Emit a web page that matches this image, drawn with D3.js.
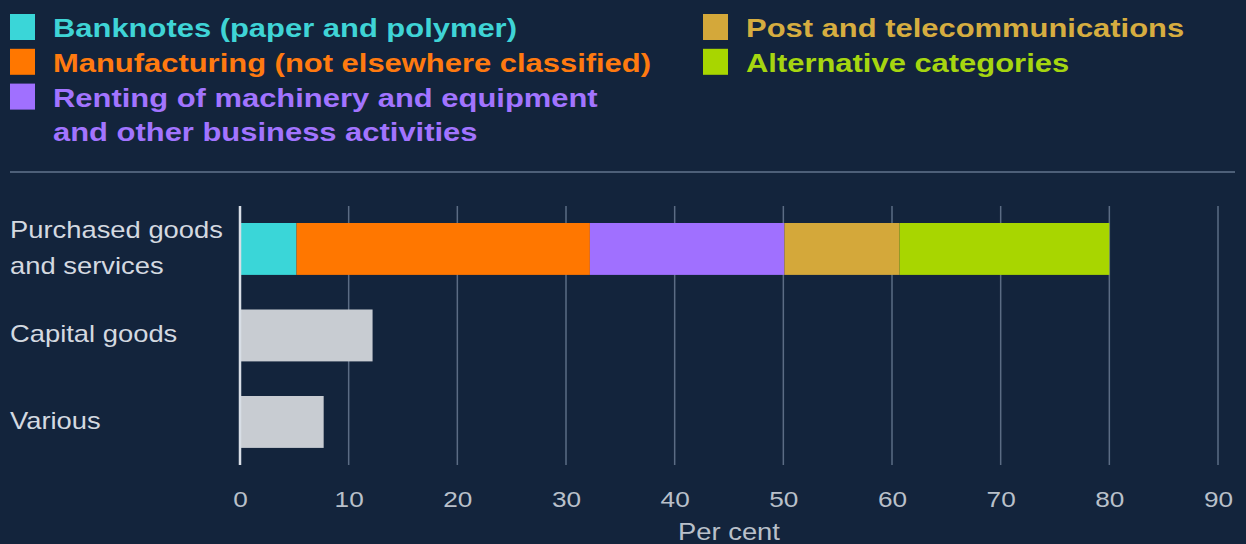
<!DOCTYPE html>
<html>
<head>
<meta charset="utf-8">
<script src="https://cdn.jsdelivr.net/npm/d3@7"></script>
<style>
  html, body { margin: 0; padding: 0; background: #13243c; }
  svg { display: block; }
</style>
</head>
<body>
<svg id="chart" width="1246" height="544"></svg>
<script>
// Spending breakdown by category, per cent
const categories = ["Purchased goods and services", "Capital goods", "Various"];
const categoryLines = [["Purchased goods", "and services"], ["Capital goods"], ["Various"]];

const seriesNames = [
  "Banknotes (paper and polymer)",
  "Manufacturing (not elsewhere classified)",
  "Renting of machinery and equipment and other business activities",
  "Post and telecommunications",
  "Alternative categories"
];
const seriesColors = ["#3ad6d8", "#ff7700", "#a070ff", "#d4a83a", "#a8d600"];
const seriesTextColors = ["#3fd4d6", "#ff7a10", "#a274ff", "#d6ad40", "#a6d610"];

// Purchased goods and services split by sub-category
const purchasedValues = [5.2, 27.0, 17.9, 10.6, 19.3];
// Other categories are single totals
const capitalGoods = 12.2;
const various = 7.7;

const tickValues = [0, 10, 20, 30, 40, 50, 60, 70, 80, 90];
const axisTitle = "Per cent";

const svg = d3.select("#chart");
const W = 1246, H = 544;
const SX = 1.19; // horizontal stretch of the typography
const font = "'Liberation Sans', Arial, sans-serif";

svg.append("rect").attr("width", W).attr("height", H).attr("fill", "#13243c");

// text placed at (x, y) and widened horizontally
function label(parent, x, y, str) {
  return parent.append("text")
    .attr("transform", `translate(${x},${y}) scale(${SX},1)`)
    .attr("font-family", font)
    .text(str);
}

// ---- Legend ----
const legendLeft = [
  { i: 0, lines: ["Banknotes (paper and polymer)"] },
  { i: 1, lines: ["Manufacturing (not elsewhere classified)"] },
  { i: 2, lines: ["Renting of machinery and equipment", "and other business activities"] }
];
const legendRight = [
  { i: 3, lines: ["Post and telecommunications"] },
  { i: 4, lines: ["Alternative categories"] }
];
const rowH = 34.8;
function drawLegend(items, x0, y0) {
  const g = svg.append("g").attr("transform", `translate(${x0},${y0})`);
  items.forEach((d, k) => {
    const y = k * rowH;
    g.append("rect").attr("x", 0).attr("y", y).attr("width", 25).attr("height", 26)
      .attr("fill", seriesColors[d.i]);
    d.lines.forEach((ln, j) => {
      label(g, 43, y + 23 + j * rowH, ln)
        .attr("font-weight", "bold").attr("font-size", 26)
        .attr("fill", seriesTextColors[d.i]);
    });
  });
}
drawLegend(legendLeft, 10, 14);
drawLegend(legendRight, 703, 14);

// separator
svg.append("line").attr("x1", 10).attr("x2", 1235).attr("y1", 172).attr("y2", 172)
  .attr("stroke", "#4d5f78").attr("stroke-width", 2);

// ---- Scales ----
const x = d3.scaleLinear().domain([0, 90]).range([240, 1218]);
const y = d3.scaleBand().domain(categories).range([205.7, 465.2])
  .paddingInner(0.4).paddingOuter(0.2);

// gridlines
svg.append("g").selectAll("line").data(tickValues.filter(t => t !== 0)).join("line")
  .attr("x1", d => x(d)).attr("x2", d => x(d))
  .attr("y1", 206).attr("y2", 465)
  .attr("stroke", "#5b6c84").attr("stroke-width", 1.5);

// stacked bar
const stackData = [];
let acc = 0;
purchasedValues.forEach((v, i) => { stackData.push({ i, x0: acc, x1: acc + v }); acc += v; });
svg.append("g").selectAll("rect").data(stackData).join("rect")
  .attr("x", d => x(d.x0)).attr("width", d => x(d.x1) - x(d.x0))
  .attr("y", y(categories[0])).attr("height", y.bandwidth())
  .attr("fill", d => seriesColors[d.i]);

// single bars
const singles = [{ c: categories[1], v: capitalGoods }, { c: categories[2], v: various }];
svg.append("g").selectAll("rect").data(singles).join("rect")
  .attr("x", x(0)).attr("width", d => x(d.v) - x(0))
  .attr("y", d => y(d.c)).attr("height", y.bandwidth())
  .attr("fill", "#c8ccd2");

// zero line
svg.append("line").attr("x1", x(0)).attr("x2", x(0)).attr("y1", 206).attr("y2", 465)
  .attr("stroke", "#d8dee6").attr("stroke-width", 2.5);

// category labels
categories.forEach((c, k) => {
  const lines = categoryLines[k];
  const cy = y(c) + y.bandwidth() / 2;
  const lh = 36;
  lines.forEach((ln, j) => {
    label(svg, 10, cy + (j - (lines.length - 1) / 2) * lh + 7, ln)
      .attr("font-size", 23).attr("fill", "#d4d9e0");
  });
});

// x axis tick labels via d3 axis
const axis = d3.axisBottom(x).tickValues(tickValues).tickSize(0).tickPadding(0);
const ax = svg.append("g").attr("transform", "translate(0,507)").call(axis);
ax.select(".domain").remove();
ax.selectAll("text")
  .attr("y", 0).attr("dy", 0)
  .attr("transform", `scale(${SX},1)`)
  .attr("font-family", font).attr("font-size", 22)
  .attr("fill", "#b9c0ca");

label(svg, x(45), 540, axisTitle)
  .attr("text-anchor", "middle")
  .attr("font-size", 23).attr("fill", "#b9c0ca");
</script>
</body>
</html>
